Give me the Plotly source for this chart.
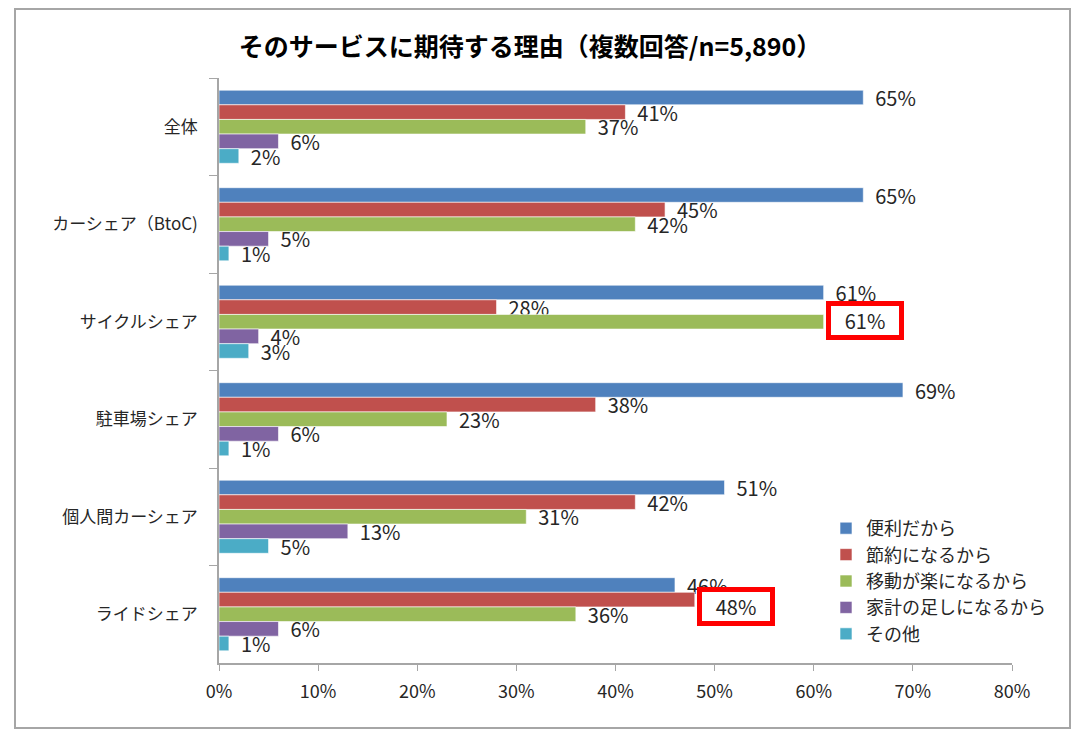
import plotly.graph_objects as go

categories = ["全体", "カーシェア（BtoC)", "サイクルシェア", "駐車場シェア", "個人間カーシェア", "ライドシェア"]
series_names = ["便利だから", "節約になるから", "移動が楽になるから", "家計の足しになるから", "その他"]
benri = [65, 65, 61, 69, 51, 46]
setsuyaku = [41, 45, 28, 38, 42, 48]
idou = [37, 42, 61, 23, 31, 36]
kakei = [6, 5, 4, 6, 13, 6]
sonota = [2, 1, 3, 1, 5, 1]
series_values = [benri, setsuyaku, idou, kakei, sonota]
colors = ["#4F81BD", "#C0504D", "#9BBB59", "#8064A2", "#4BACC6"]
tick_vals = [0, 10, 20, 30, 40, 50, 60, 70, 80]
tick_text = ["0%", "10%", "20%", "30%", "40%", "50%", "60%", "70%", "80%"]
title_text = "そのサービスに期待する理由（複数回答/n=5,890）"
# highlighted labels: (series index, category index, yshift)
highlights = [(2, 2, 1), (1, 5, 8)]

FONT = "Noto Sans CJK JP, Noto Sans, sans-serif"
# page has an 8px body margin; figure coordinates = page coordinates - 8
OFF = 8
W, H = 1072, 722
L, T = 219 - OFF, 78 - OFF
R = W - (1012 - OFF)
B = H - (663 - OFF)
pw, ph = W - L - R, H - T - B

def fx(page_x):
    return (page_x - OFF - L) / pw

def fy(page_y):
    return (H - B - (page_y - OFF)) / ph

fig = go.Figure()
hl_set = {(s, c) for s, c, _ in highlights}
for si, (name, vals, col) in enumerate(zip(series_names, series_values, colors)):
    texts = []
    for ci, v in enumerate(vals):
        texts.append("" if (si, ci) in hl_set else "\u00a0\u00a0" + f"{v}%")
    fig.add_trace(go.Bar(
        y=categories, x=vals, name=name, orientation="h",
        marker=dict(color=col, line=dict(color="rgba(255,255,255,0.6)", width=1)),
        text=texts, textposition="outside", cliponaxis=False, constraintext="none",
        textfont=dict(family=FONT, size=20, color="#262626"),
        legendgroup=name,
    ))

for si, ci, ys in highlights:
    fig.add_annotation(
        x=series_values[si][ci], y=categories[ci], xref="x", yref="y",
        text=f"{series_values[si][ci]}%", showarrow=False,
        xanchor="left", yanchor="middle", xshift=2, yshift=ys,
        width=64, height=25, borderpad=2,
        bordercolor="#FF0000", borderwidth=5, bgcolor="white",
        font=dict(family=FONT, size=20, color="#262626"),
    )

fig.add_shape(type="rect", xref="paper", yref="paper",
              x0=fx(15), x1=fx(1070), y0=fy(728), y1=fy(OFF + 1),
              line=dict(color="#A6A6A6", width=2), layer="below")

fig.update_layout(
    width=W, height=H,
    margin=dict(l=L, r=R, t=T, b=B),
    paper_bgcolor="white", plot_bgcolor="white",
    barmode="group", bargap=0.25, bargroupgap=0,
    title=dict(text=f"<b>{title_text}</b>", x=fx(530), xref="paper",
               xanchor="center", y=1 - (47 - OFF) / H, yanchor="middle",
               font=dict(family=FONT, size=25, color="#000000")),
    legend=dict(x=fx(826), y=fy(510), xanchor="left", yanchor="top",
                font=dict(family=FONT, size=18, color="#262626"),
                tracegroupgap=0, itemwidth=30, bgcolor="rgba(0,0,0,0)"),
    showlegend=True,
)
fig.update_xaxes(range=[0, 80], tickvals=tick_vals, ticktext=tick_text,
                 showgrid=False, zeroline=False, showline=True, linecolor="#A6A6A6", linewidth=1.5,
                 ticks="outside", ticklen=6, tickcolor="#A6A6A6", ticklabelstandoff=6,
                 tickfont=dict(family=FONT, size=18, color="#262626"))
fig.update_yaxes(autorange="reversed", showgrid=False, showline=True, linecolor="#A6A6A6", linewidth=1.5,
                 ticks="outside", ticklen=8, tickcolor="#A6A6A6", tickson="boundaries",
                 ticklabelstandoff=16,
                 tickfont=dict(family=FONT, size=17, color="#262626"))

fig.write_html("out.html")
